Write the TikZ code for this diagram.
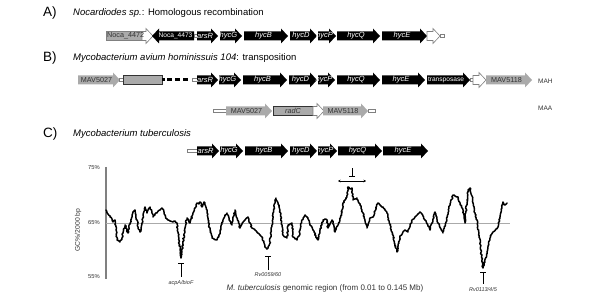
\documentclass[tikz,border=0pt]{standalone}
\usepackage{fontspec}
\setmainfont{Liberation Sans}
\usetikzlibrary{arrows.meta,decorations.pathmorphing}
\definecolor{gfill}{HTML}{AAAAAA}
\definecolor{gline}{HTML}{808080}
\definecolor{dtext}{HTML}{333333}
\tikzset{
  blk/.style={fill=black},
  blkr/.style={fill=black},
  gry/.style={fill=gfill},
  wht/.style={fill=white,draw=gline,line width=0.6pt},
  blktxt/.style={text=white,font=\fontsize{7.5}{8}\selectfont\itshape,inner sep=0pt},
  blkrtxt/.style={text=white,font=\fontsize{6.6}{8}\selectfont\upshape,inner sep=0pt},
  grytxt/.style={text=dtext,font=\fontsize{7.2}{8}\selectfont,inner sep=0pt},
  whttxt/.style={inner sep=0pt},
  tailbox/.style={fill=white,draw=gline,line width=0.5pt},
  boxg/.style={fill=gfill,draw=dtext,line width=0.6pt},
  panel/.style={font=\fontsize{13.5}{14}\selectfont,anchor=west,inner sep=0pt},
  ttl/.style={font=\fontsize{9.5}{11}\selectfont,anchor=west,inner sep=0pt},
  axlbl/.style={font=\fontsize{5.8}{6}\selectfont,text=dtext,inner sep=0pt},
  mrk/.style={line width=0.7pt},
  mrklbl/.style={font=\fontsize{5.5}{6}\selectfont\itshape,text=dtext,inner sep=0pt},
  strain/.style={font=\fontsize{6.5}{7}\selectfont,text=dtext,anchor=west,inner sep=0pt},
  gccurve/.style={line width=1.5pt,line join=round,line cap=round},
  jitter/.style={decorate,decoration={random steps,segment length=1.3pt,amplitude=0.7pt}},
}
% #1 style prefix, #2 name, #3 x1, #4 x2 (tip), #5 y, #6 text
\newcommand\gene[6]{%
  \path[#1] (#3,#5-4.5) -- (#4-7,#5-4.5) -- (#4-7,#5-7.5) -- (#4,#5) -- (#4-7,#5+7.5) -- (#4-7,#5+4.5) -- (#3,#5+4.5) -- cycle;
  \node[#1txt] (#2) at ({(#3+#4-5)/2},#5) {#6};}
% left-pointing: #3 tip x, #4 end x
\newcommand\lgene[6]{%
  \path[#1] (#4,#5-4.5) -- (#3+7,#5-4.5) -- (#3+7,#5-7.5) -- (#3,#5) -- (#3+7,#5+7.5) -- (#3+7,#5+4.5) -- (#4,#5+4.5) -- cycle;
  \node[#1txt] (#2) at ({(#3+#4+5)/2},#5) {#6};}
\newcommand\tailb[3]{\path[tailbox] (#1,#3-1.6) rectangle (#2,#3+1.6);}
\begin{document}
\begin{tikzpicture}[x=1pt,y=-1pt]
\pgfmathsetseed{7}
\useasboundingbox[fill=white] (0,0) rectangle (600,302);
% ---------------- A
\node[panel] (pA) at (43,13) {A)};
\node[ttl] (tA) at (73,13) {\textit{Nocardiodes sp.}: Homologous recombination};
\path[boxg,draw=gline] (106,31.5) rectangle (145,40.5);
\gene{wht}{wA1}{142}{153}{36}{}
\node[grytxt,anchor=west] (noca4472) at (107,36) {Noca\_4472};
\lgene{blkr}{noca4473}{152}{194}{36}{Noca\_4473}
\tailb{194}{197}{36}
\gene{blk}{aArsR}{197}{218}{36}{arsR}
\gene{blk}{aHycG}{220}{242}{36}{hycG}
\gene{blk}{aHycB}{244}{288}{36}{hycB}
\gene{blk}{aHycD}{290}{317}{36}{hycD}
\gene{blk}{aHycP}{318}{336}{36}{hycP}
\gene{blk}{aHycQ}{337}{380}{36}{hycQ}
\gene{blk}{aHycE}{382}{427}{36}{hycE}
\gene{wht}{wA2}{427}{440}{36}{}
\tailb{440}{444}{36}
% ---------------- B
\node[panel] (pB) at (43,58) {B)};
\node[ttl] (tB) at (73,58) {\textit{Mycobacterium avium hominissuis 104}: transposition};
\gene{gry}{bMAV5027}{78}{120}{80}{MAV5027}
\tailb{119}{123}{80}
\path[boxg] (123,75.5) rectangle (162,84.5);
\fill (162,78.5) rectangle (165,81.5);
\coordinate (dashA) at (167,80);
\coordinate (dashB) at (189,80);
\draw[line width=3pt,dash pattern=on 5pt off 3pt] (dashA) -- (dashB);
\tailb{192}{197}{80}
\gene{blk}{bArsR}{197}{218}{80}{arsR}
\gene{blk}{bHycG}{219}{241}{80}{hycG}
\gene{blk}{bHycB}{243}{287}{80}{hycB}
\gene{blk}{bHycD}{289}{317}{80}{hycD}
\gene{blk}{bHycP}{318}{335}{80}{hycP}
\gene{blk}{bHycQ}{337}{380}{80}{hycQ}
\gene{blk}{bHycE}{382}{425}{80}{hycE}
\gene{blkr}{bTransp}{427}{470}{80}{transposase}
\tailb{470}{474}{80}
\gene{wht}{wB1}{473}{486}{80}{}
\gene{gry}{bMAV5118}{486}{532}{80}{MAV5118}
\node[strain] (mah) at (538,81) {MAH};
% MAA row
\tailb{213}{226}{111}
\gene{gry}{cMAV5027}{226}{272}{111}{MAV5027}
\path[boxg] (273,106.5) rectangle (313,115.5);
\node[grytxt,font=\fontsize{7.2}{8}\selectfont\itshape] (radC) at (293,111) {radC};
\gene{wht}{wB2}{313}{324}{111}{}
\gene{gry}{cMAV5118}{323}{368}{111}{MAV5118}
\tailb{368}{375}{111}
\node[strain] (maa) at (538,108) {MAA};
% ---------------- C
\node[panel] (pC) at (43,134) {C)};
\node[ttl] (tC) at (73,134) {\textit{Mycobacterium tuberculosis}};
\tailb{187}{197}{151}
\gene{blk}{cArsR}{197}{219}{151}{arsR}
\gene{blk}{cHycG}{220}{243}{151}{hycG}
\gene{blk}{cHycB}{245}{288}{151}{hycB}
\gene{blk}{cHycD}{290}{317}{151}{hycD}
\gene{blk}{cHycP}{318}{337}{151}{hycP}
\gene{blk}{cHycQ}{338}{382}{151}{hycQ}
\gene{blk}{cHycE}{383}{428}{151}{hycE}
% chart
\coordinate (axT) at (106,167);
\coordinate (axB) at (106,279);
\draw[gline,line width=1.2pt] (axT) -- (axB);
\coordinate (blL) at (106,223);
\coordinate (blR) at (510,223);
\draw[gfill,line width=0.9pt] (blL) -- (blR);
\node[axlbl] (l75) at (94,168) {75\%};
\node[axlbl] (l65) at (94,223) {65\%};
\node[axlbl] (l55) at (94,277) {55\%};
\node[axlbl,font=\fontsize{6.8}{7}\selectfont,rotate=90] (ylab) at (78,230) {GC\%/2000 bp};
\draw[gccurve,jitter] plot coordinates {
(106,210) (108,214) (110,217) (112,219) (113,222) (115,220) (116,230) (117,240) (119,241) (120,242) (122,238) (123,233)
(125,225) (127,230) (128,233) (130,224) (132,215) (133,212) (135,210) (137,220) (138,227) (140,232)
(142,224) (145,207) (147,213) (148,210) (150,207) (152,213) (153,217) (155,214) (157,213) (160,210) (162,208)
(164,212) (165,215) (167,219) (168,220) (170,221) (173,222) (175,221) (177,223) (178,233) (180,250) (181,258)
(182,252) (183,243) (185,228) (187,218) (189,222) (190,223) (193,213) (195,208) (197,203) (199,204) (200,202)
(202,207) (204,202) (205,203) (207,212) (208,220) (210,230) (212,238) (214,239) (217,240) (219,235) (220,232)
(222,224) (223,220) (225,216) (227,213) (229,218) (230,221) (232,225) (234,214) (235,210) (237,218) (240,228)
(242,224) (245,220) (248,217) (250,223) (252,228) (255,230) (257,232) (260,235) (262,237) (264,243) (265,247)
(267,249) (268,248) (270,242) (272,225) (273,213) (275,203) (276,198) (278,204) (280,210) (282,225) (283,235)
(285,237) (287,238) (288,225) (290,224) (292,223) (293,237) (295,239) (297,240) (299,236) (300,230)
(302,220) (305,215) (307,217) (308,218) (310,224) (313,230) (316,236) (318,240) (320,230) (323,220)
(325,219) (327,220) (328,228) (330,224) (332,220) (334,227) (335,232) (338,225) (340,220) (342,210) (343,203)
(345,200) (347,197) (348,187) (350,189) (352,188) (353,200) (355,199) (357,198) (359,203) (360,205) (362,210)
(363,213) (365,221) (367,228) (369,222) (370,218) (373,217) (375,211) (378,203) (380,205) (383,207) (385,210)
(387,213) (390,225) (392,232) (395,244) (397,252) (399,243) (400,237) (403,232) (405,230) (408,232) (410,226)
(412,220) (415,217) (418,214) (420,212) (423,216) (425,220) (428,226) (430,230) (433,219) (435,212) (437,218)
(438,223) (441,229) (443,233) (446,222) (448,213) (450,204) (453,195) (455,196) (458,197) (460,203) (463,210)
(464,218) (465,223) (467,200) (468,190) (470,188) (472,196) (473,203) (475,213) (477,220) (479,233) (480,243)
(482,260) (483,268) (485,262) (487,252) (490,238) (493,232) (496,229) (498,227) (499,222) (500,217) (502,207)
(503,202) (505,205) (507,203)
};
% markers
\coordinate (mkA1) at (181,263);
\coordinate (mkA2) at (181,277);
\draw[mrk,{Bar[width=6pt]}-] (mkA1) -- (mkA2);
\node[mrklbl] (acpA) at (181,283) {acpA/bioF};
\coordinate (mkB1) at (268,256);
\coordinate (mkB2) at (268,270);
\draw[mrk,{Bar[width=6pt]}-] (mkB1) -- (mkB2);
\node[mrklbl] (rv59) at (268,275) {Rv0059/60};
\coordinate (mkC1) at (483,272);
\coordinate (mkC2) at (483,284);
\draw[mrk,{Bar[width=6pt]}-] (mkC1) -- (mkC2);
\node[mrklbl] (rv113) at (483,290) {Rv0113/4/5};
\coordinate (mkD1) at (352,177);
\coordinate (mkD2) at (352,168);
\draw[mrk,{Bar[width=6pt]}-] (mkD1) -- (mkD2);
\coordinate (daL) at (338,181);
\coordinate (daR) at (366,181);
\draw[line width=0.6pt,{Stealth[length=2.5pt,width=2.5pt]}-{Stealth[length=2.5pt,width=2.5pt]}] (daL) -- (daR);
\node[font=\fontsize{8}{9}\selectfont,text=dtext,inner sep=0pt] (xlab) at (325,288) {\textit{M. tuberculosis} genomic region (from 0.01 to 0.145 Mb)};
\end{tikzpicture}
\end{document}
